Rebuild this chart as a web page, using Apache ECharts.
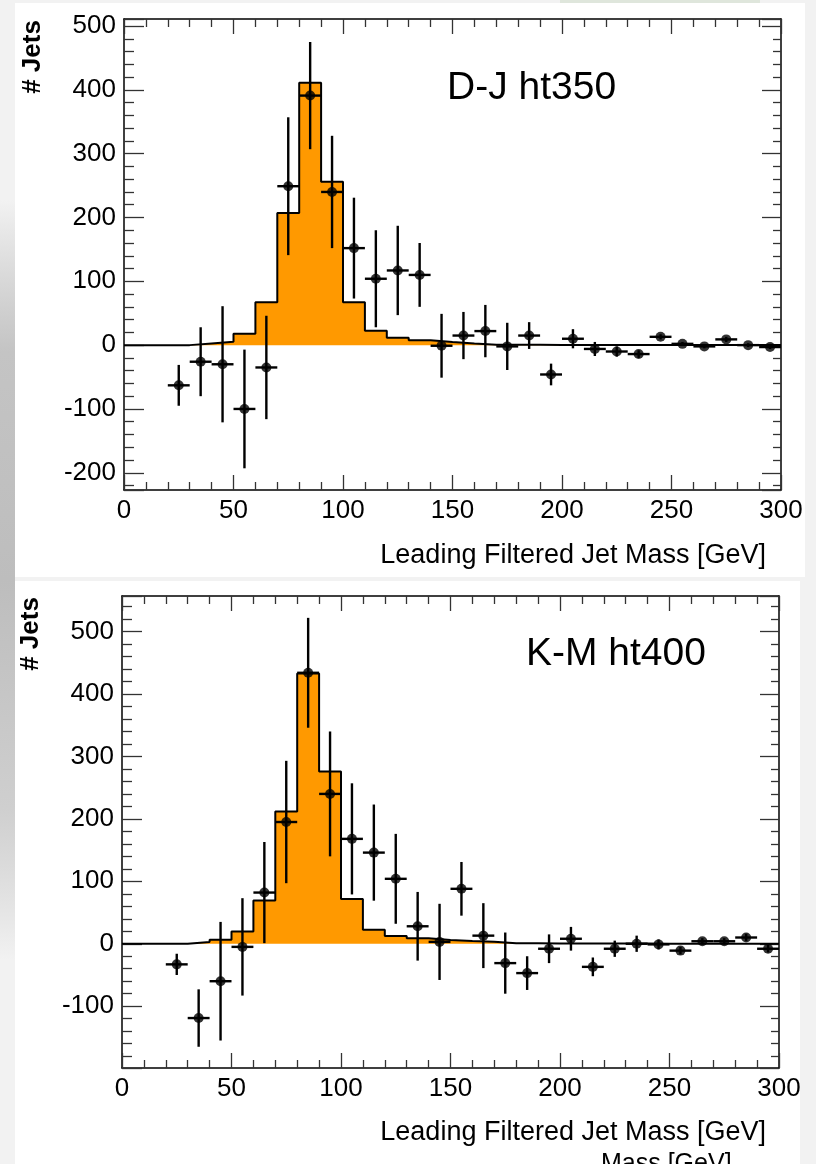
<!DOCTYPE html>
<html>
<head>
<meta charset="utf-8">
<script src="https://cdn.jsdelivr.net/npm/echarts@6/dist/echarts.min.js"></script>
<style>
html,body{margin:0;padding:0;background:#f2f2f2;}
#chart{width:816px;height:1164px;}
</style>
</head>
<body>
<div id="chart"></div>
<script>
// ---- data ----
const binLow = [0,10,20,30,40,50,60,70,80,90,100,110,120,130,140,150,160,170,180,190,200,210,220,230,240,250,260,270,280,290];
const binHigh = 300;
const pointX = [25,35,45,55,65,75,85,95,105,115,125,135,145,155,165,175,185,195,205,215,225,235,245,255,265,275,285,295];

// D-J ht350
const histTop = [0,0,0,2.6,5.2,18,67,207,411,256,67,22.4,11.5,7.5,4.8,2.4,0.6,0.4,0.4,0.3,0.3,0.3,0.2,0.2,0.2,0.2,0.1,0.1,0.1,0.1];
const dataTop = [-63,-26,-30,-100,-35,249,391,240,152,104,117,110,-1,15,22,-2,15,-46,10,-6,-10,-14,13,2,-2,9,0,-3];
const errTop  = [32,54,91,93,81,108,84,88,79,76,70,50,50,37,41,37,21,17,15,11,8,6,4,3,3,4,3,3];

// K-M ht400
const histBot = [0,0,0,2.7,6.4,19.8,69.4,212,433,276,71.6,22.4,12.5,9,6,4.5,3.2,0.8,0.7,0.6,0.5,0.4,0.3,0.3,0.2,0.2,0.2,0.1,0.1,0.1];
const dataBot = [-33,-119,-60,-5,82,195,434,240,168,146,104,28,3,88,13,-31,-47,-8,8,-37,-8,0,-1,-11,4,4,10,-8];
const errBot  = [17,46,95,78,81,98,88,100,89,77,72,55,61,43,52,49,27,23,19,15,13,13,8,6,5,5,6,6];

const panelLabels = ['D-J ht350', 'K-M ht400'];
const xTitle = 'Leading Filtered Jet Mass [GeV]';
const yTitle = '# Jets';

// ---- build ----
const FONT = "'Liberation Sans', Arial, Helvetica, sans-serif";
const grids = [
  {left:124, top:19, width:657, height:471, ymin:-227, ymax:511},
  {left:122, top:596, width:657, height:472, ymin:-199, ymax:557}
];

function histData(h){
  const d = binLow.map((x,i)=>[x,h[i]]);
  d.push([binHigh, h[h.length-1]]);
  return d;
}
function ptsData(v,e){ return pointX.map((x,i)=>[x,v[i],e[i]]); }

function xAx(gi,pos){
  return {
    type:'value', gridIndex:gi, position:pos, min:0, max:300, interval:50,
    axisLine:{show:true,onZero:false,lineStyle:{color:'#000',width:1.5}},
    axisTick:{show:true,inside:true,length:15,lineStyle:{color:'#333',width:1.3}},
    minorTick:{show:true,splitNumber:5,length:8,lineStyle:{color:'#333',width:1.3}},
    splitLine:{show:false}, minorSplitLine:{show:false},
    axisLabel:{show:pos==='bottom',margin:8,fontSize:26,fontFamily:FONT,color:'#000'}
  };
}
function yAx(gi,pos){
  const g = grids[gi];
  return {
    type:'value', gridIndex:gi, position:pos, min:g.ymin, max:g.ymax,
    minInterval:100, maxInterval:100,
    axisLine:{show:true,onZero:false,lineStyle:{color:'#000',width:1.5}},
    axisTick:{show:true,inside:true,length:pos==='left'?20:19,lineStyle:{color:'#333',width:1.3}},
    minorTick:{show:true,splitNumber:5,length:pos==='left'?10:8,lineStyle:{color:'#333',width:1.3}},
    splitLine:{show:false}, minorSplitLine:{show:false},
    axisLabel:{show:pos==='left',margin:8,fontSize:26,fontFamily:FONT,color:'#000',
      formatter:v=> (Math.abs(v%100)<1e-6 ? String(v) : '')}
  };
}

function renderErr(params, api){
  const x=api.value(0), y=api.value(1), e=api.value(2);
  const t=api.coord([x,y+e]), b=api.coord([x,y-e]);
  const l=api.coord([x-5,y]), r=api.coord([x+5,y]);
  return {type:'group',children:[
    {type:'line',shape:{x1:t[0],y1:t[1],x2:b[0],y2:b[1]},style:{stroke:'#000',lineWidth:2.4}},
    {type:'line',shape:{x1:l[0],y1:l[1],x2:r[0],y2:r[1]},style:{stroke:'#000',lineWidth:2.4}}
  ]};
}

const sets = [[histTop,dataTop,errTop],[histBot,dataBot,errBot]];
const series = [];
sets.forEach((s,gi)=>{
  series.push({type:'line', xAxisIndex:2*gi, yAxisIndex:2*gi, data:histData(s[0]), step:'end',
    symbol:'none', lineStyle:{color:'#000',width:2}, areaStyle:{color:'#FF9900',opacity:1}, z:2, silent:true, animation:false});
  series.push({type:'custom', xAxisIndex:2*gi, yAxisIndex:2*gi, data:ptsData(s[1],s[2]), renderItem:renderErr,
    encode:{x:0,y:1}, z:3, animation:false, clip:true});
  series.push({type:'scatter', xAxisIndex:2*gi, yAxisIndex:2*gi, data:ptsData(s[1],s[2]).map(p=>[p[0],p[1]]),
    symbol:'circle', symbolSize:10, itemStyle:{color:'#000'}, z:4, animation:false});
});

const graphic = [
  // background decoration
  {type:'rect', z:-100, shape:{x:0,y:0,width:816,height:1164}, style:{fill:'#f2f2f2'}},
  {type:'rect', z:-99, shape:{x:0,y:200,width:15,height:760},
    style:{fill:new echarts.graphic.LinearGradient(0,0,0,1,[
      {offset:0,color:'rgba(190,190,190,0)'},{offset:0.2,color:'#c4c4c4'},
      {offset:0.5,color:'#bdbdbd'},{offset:0.8,color:'#cfcfcf'},{offset:1,color:'rgba(200,200,200,0)'}])}},
  {type:'rect', z:-99, shape:{x:560,y:0,width:200,height:4}, style:{fill:'#dfe6dc'}},
  {type:'rect', z:-98, shape:{x:15,y:3,width:790,height:574}, style:{fill:'#ffffff'}},
  {type:'rect', z:-98, shape:{x:15,y:581,width:785,height:583}, style:{fill:'#ffffff'}},
  // titles
  {type:'text', x:447, y:88, style:{text:panelLabels[0], font:"39px "+FONT, fill:'#000', textAlign:'left', textVerticalAlign:'middle', verticalAlign:'middle'}},
  {type:'text', x:526, y:654, style:{text:panelLabels[1], font:"39px "+FONT, fill:'#000', textAlign:'left', textVerticalAlign:'middle', verticalAlign:'middle'}},
  {type:'text', x:766, y:556, style:{text:xTitle, font:"27px "+FONT, fill:'#000', textAlign:'right', textVerticalAlign:'middle', verticalAlign:'middle'}},
  {type:'text', x:766, y:1133, style:{text:xTitle, font:"27px "+FONT, fill:'#000', textAlign:'right', textVerticalAlign:'middle', verticalAlign:'middle'}},
  {type:'text', x:33, y:57, rotation:Math.PI/2, style:{text:yTitle, font:"bold 26px "+FONT, fill:'#000', textAlign:'center', textVerticalAlign:'middle', verticalAlign:'middle'}},
  {type:'text', x:31, y:634, rotation:Math.PI/2, style:{text:yTitle, font:"bold 26px "+FONT, fill:'#000', textAlign:'center', textVerticalAlign:'middle', verticalAlign:'middle'}},
  // cropped remnant text at the bottom edge
  {type:'text', x:601, y:1152, style:{text:'Mass [GeV]', font:"25px "+FONT, fill:'#000', textAlign:'left', textVerticalAlign:'top', verticalAlign:'top'}}
];

const option = {
  animation:false,
  backgroundColor:'transparent',
  grid: grids.map(g=>({left:g.left, top:g.top, width:g.width, height:g.height, containLabel:false})),
  xAxis:[xAx(0,'bottom'), xAx(0,'top'), xAx(1,'bottom'), xAx(1,'top')],
  yAxis:[yAx(0,'left'), yAx(0,'right'), yAx(1,'left'), yAx(1,'right')],
  series: series,
  graphic: graphic
};
const chart = echarts.init(document.getElementById('chart'), null, {renderer:'canvas'});
chart.setOption(option);
</script>
</body>
</html>
